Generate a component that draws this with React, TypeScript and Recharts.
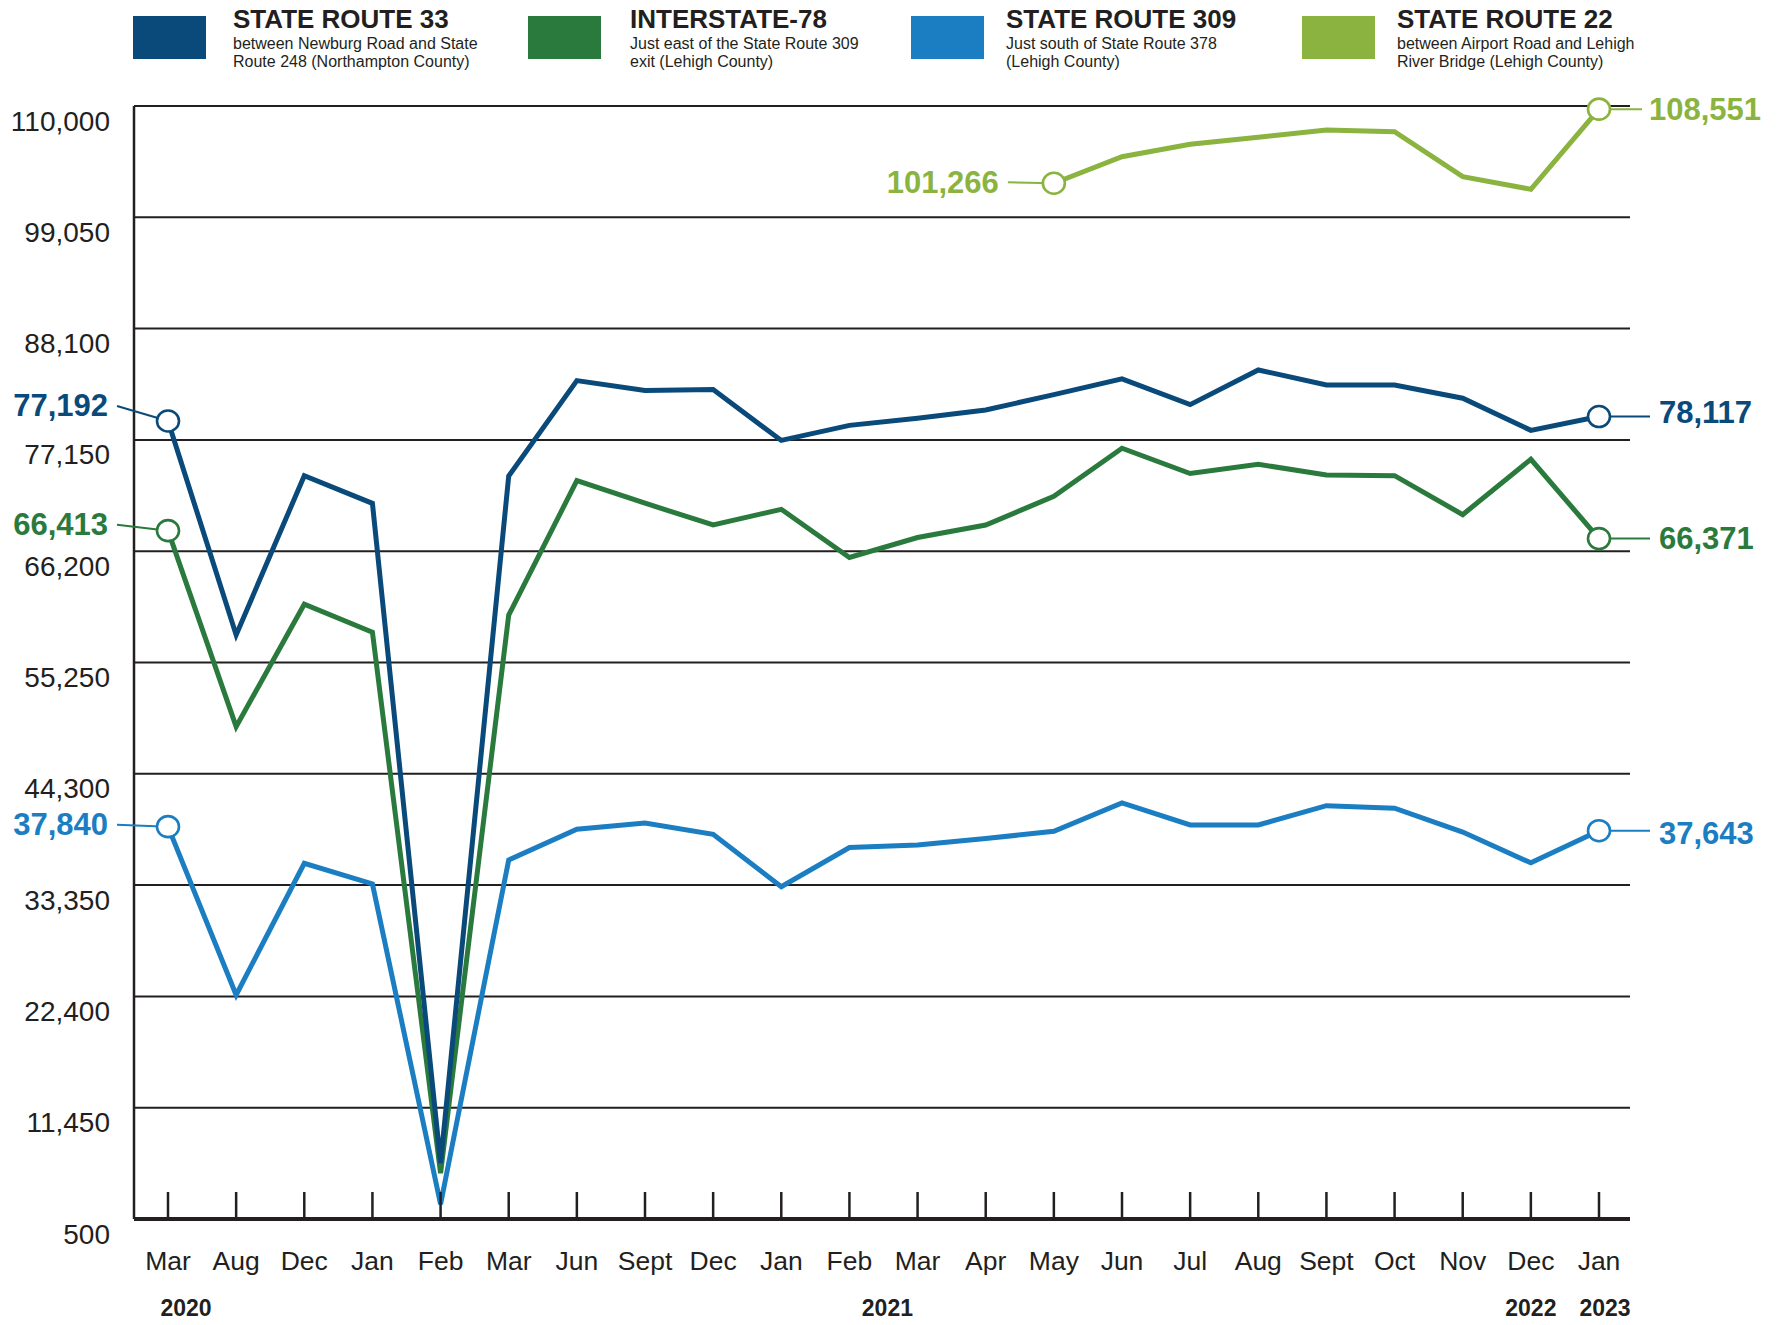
import React from 'react';
import { LineChart, Line, XAxis, YAxis, CartesianGrid } from 'recharts';

const months = ['Mar', 'Aug', 'Dec', 'Jan', 'Feb', 'Mar', 'Jun', 'Sept', 'Dec', 'Jan', 'Feb', 'Mar', 'Apr', 'May', 'Jun', 'Jul', 'Aug', 'Sept', 'Oct', 'Nov', 'Dec', 'Jan'];
const yearLabels: { idx: number; label: string; dx: number }[] = [
  { idx: 0, label: '2020', dx: 18 },
  { idx: 10, label: '2021', dx: 38 },
  { idx: 20, label: '2022', dx: 0 },
  { idx: 21, label: '2023', dx: 6 },
];
const yTicks = [500, 11450, 22400, 33350, 44300, 55250, 66200, 77150, 88100, 99050, 110000];

const sr33 = [79010, 57960, 73630, 70910, 5990, 73600, 82980, 82010, 82100, 77100, 78580, 79290, 80090, 81610, 83150, 80620, 84030, 82550, 82550, 81250, 78090, 79450];
const i78 = [68220, 48940, 60980, 58220, 5000, 59920, 73140, 70920, 68780, 70320, 65580, 67550, 68780, 71590, 76330, 73840, 74750, 73700, 73630, 69800, 75240, 67440];
const sr309 = [39100, 22540, 35500, 33460, 1960, 35820, 38840, 39460, 38350, 33190, 37050, 37300, 37930, 38640, 41440, 39270, 39270, 41160, 40920, 38570, 35540, 38700];
const sr22: (number | null)[] = [null, null, null, null, null, null, null, null, null, null, null, null, null, 102400, 105010, 106230, 106920, 107640, 107470, 103050, 101810, 109690];

const seriesNames = ['STATE ROUTE 33', 'INTERSTATE-78', 'STATE ROUTE 309', 'STATE ROUTE 22'];
const seriesDesc = [
  ['between Newburg Road and State', 'Route 248 (Northampton County)'],
  ['Just east of the State Route 309', 'exit (Lehigh County)'],
  ['Just south of State Route 378', '(Lehigh County)'],
  ['between Airport Road and Lehigh', 'River Bridge (Lehigh County)'],
];
const firstLabels = ['77,192', '66,413', '37,840', '101,266'];
const lastLabels = ['78,117', '66,371', '37,643', '108,551'];

const COLORS = ['#0a4a7a', '#2a7a3d', '#1b7dc2', '#8bb33f'];
const KEYS = ['sr33', 'i78', 'sr309', 'sr22'];
const INK = '#231f20';
const FONT = "'Liberation Sans', Arial, Helvetica, sans-serif";

const data = months.map((m, i) => ({
  id: i,
  month: m,
  sr33: sr33[i],
  i78: i78[i],
  sr309: sr309[i],
  sr22: sr22[i],
}));

// label layout per series
const labelLayout = [
  { lt: -60, ll: -51, ldy: -15, rt: 60, rl: 51, rdy: -4 },
  { lt: -60, ll: -51, ldy: -6, rt: 60, rl: 51, rdy: 0 },
  { lt: -60, ll: -51, ldy: -2, rt: 60, rl: 51, rdy: 3 },
  { lt: -55, ll: -46, ldy: -1, rt: 50, rl: 43, rdy: 0 },
];

const seriesValues = [sr33, i78, sr309, sr22];

const makeDot = (si: number) => (props: any) => {
  const { cx, cy, index, value } = props;
  const vals = seriesValues[si];
  const valid = vals.map((v, i) => (v == null ? -1 : i)).filter((i) => i >= 0);
  const firstIdx = valid[0];
  const lastIdx = valid[valid.length - 1];
  const k = `dot-${si}-${index}`;
  if (value == null || cx == null || cy == null || (index !== firstIdx && index !== lastIdx)) {
    return <g key={k} />;
  }
  const L = labelLayout[si];
  const color = COLORS[si];
  const isFirst = index === firstIdx;
  const textX = cx + (isFirst ? L.lt : L.rt);
  const leadX = cx + (isFirst ? L.ll : L.rl);
  const dy = isFirst ? L.ldy : L.rdy;
  const leadY = isFirst ? cy + dy : cy;
  return (
    <g key={k}>
      <line x1={leadX} y1={leadY} x2={cx} y2={cy} stroke={color} strokeWidth={2} />
      <ellipse cx={cx} cy={cy} rx={11} ry={10.5} fill="#fff" stroke={color} strokeWidth={2.6} />
      <text
        x={textX}
        y={cy + dy}
        textAnchor={isFirst ? 'end' : 'start'}
        dominantBaseline="central"
        fill={color}
        fontFamily={FONT}
        fontWeight="bold"
        fontSize={31}
      >
        {isFirst ? firstLabels[si] : lastLabels[si]}
      </text>
    </g>
  );
};

const XTick = (props: any) => {
  const { x, y, payload } = props;
  const idx = Number(payload.value);
  const yr = yearLabels.find((d) => d.idx === idx);
  return (
    <g>
      <line x1={x} y1={y} x2={x} y2={y - 27} stroke={INK} strokeWidth={2.5} />
      <text x={x} y={y + 42} textAnchor="middle" dominantBaseline="central" fill={INK} fontFamily={FONT} fontSize={26.5}>
        {months[idx]}
      </text>
      {yr && (
        <text x={x + yr.dx} y={y + 89} textAnchor="middle" dominantBaseline="central" fill={INK} fontFamily={FONT} fontWeight="bold" fontSize={23}>
          {yr.label}
        </text>
      )}
    </g>
  );
};

const YTick = (props: any) => {
  const { y, payload } = props;
  return (
    <text x={110} y={y + 15} textAnchor="end" dominantBaseline="central" fill={INK} fontFamily={FONT} fontSize={28}>
      {Number(payload.value).toLocaleString('en-US')}
    </text>
  );
};

const legendX = [{ sq: 133, tx: 233 }, { sq: 528, tx: 630 }, { sq: 911, tx: 1006 }, { sq: 1302, tx: 1397 }];

const Legend = () => (
  <svg width={1784} height={80} style={{ position: 'absolute', left: 0, top: 0 }}>
    {seriesNames.map((name, i) => (
      <g key={name}>
        <rect x={legendX[i].sq} y={16} width={73} height={43} fill={COLORS[i]} />
        <text x={legendX[i].tx} y={28} fill={INK} fontFamily={FONT} fontWeight="bold" fontSize={26}>
          {name}
        </text>
        <text x={legendX[i].tx} y={49} fill={INK} fontFamily={FONT} fontSize={16}>
          {seriesDesc[i][0]}
        </text>
        <text x={legendX[i].tx} y={67} fill={INK} fontFamily={FONT} fontSize={16}>
          {seriesDesc[i][1]}
        </text>
      </g>
    ))}
  </svg>
);

const drawOrder = [3, 2, 1, 0];

export default function App() {
  return (
    <div style={{ position: 'absolute', left: 0, top: 0, width: 1784, height: 1325, background: '#fff' }}>
      <LineChart width={1784} height={1325} data={data} margin={{ top: 106, right: 154, bottom: 0, left: 0 }}>
        <CartesianGrid vertical={false} stroke={INK} strokeWidth={2} strokeOpacity={1} />
        <XAxis
          dataKey="id"
          type="category"
          height={106}
          padding={{ left: 34, right: 31 }}
          axisLine={{ stroke: INK, strokeWidth: 4 }}
          tickLine={false}
          tickSize={0}
          tickMargin={0}
          interval={0}
          tick={<XTick />}
        />
        <YAxis
          type="number"
          domain={[500, 110000]}
          ticks={yTicks}
          width={134}
          axisLine={{ stroke: INK, strokeWidth: 2.5 }}
          tickLine={false}
          interval={0}
          tick={<YTick />}
        />
        {drawOrder.map((si) => (
          <Line
            key={KEYS[si]}
            type="linear"
            dataKey={KEYS[si]}
            stroke={COLORS[si]}
            strokeWidth={5}
            dot={makeDot(si)}
            activeDot={false}
            isAnimationActive={false}
            connectNulls={false}
          />
        ))}
      </LineChart>
      <Legend />
    </div>
  );
}
